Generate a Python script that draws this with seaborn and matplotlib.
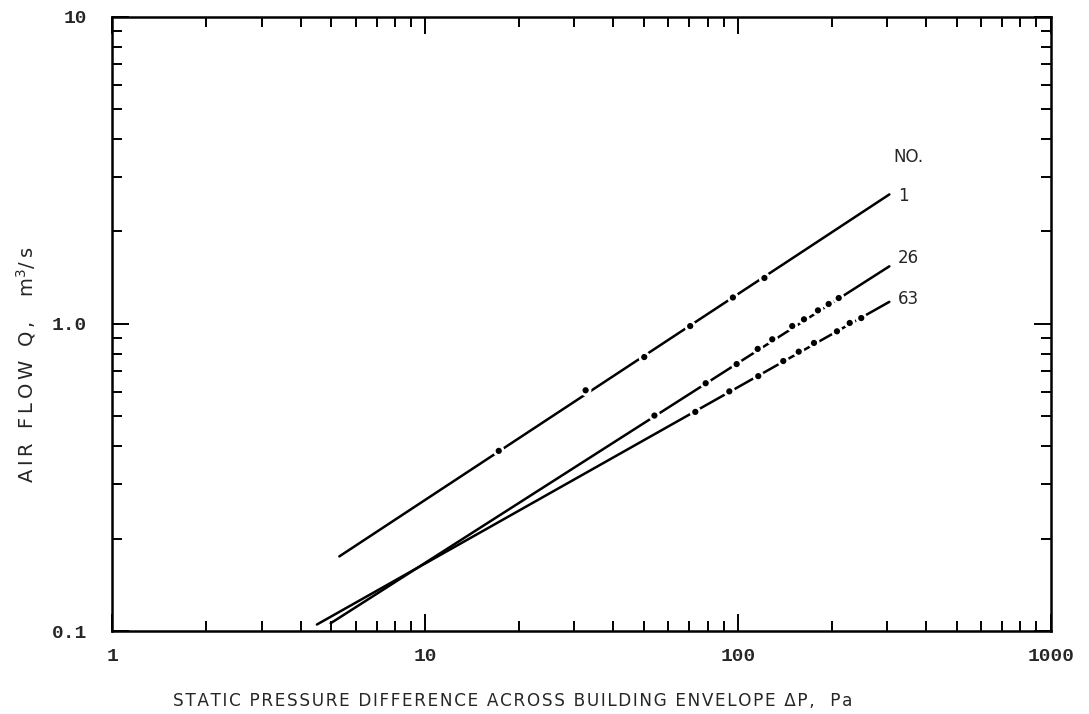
import matplotlib
matplotlib.use('Agg')
import matplotlib.pyplot as plt
import matplotlib.ticker as mticker
import seaborn as sns

# curve numbers
curve_names = ['1', '26', '63']

# fitted lines, start and end (Pa, m3/s)
line_x_start = [5.32, 4.99, 4.51]
line_x_end = [305.0, 305.0, 305.0]
line_y_start = [0.175, 0.106, 0.105]
line_y_end = [2.64, 1.54, 1.18]

# measured points on each curve
pts1_x = [17.2, 32.6, 50.2, 70.4, 96.4, 121.6]
pts1_y = [0.386, 0.608, 0.780, 0.984, 1.219, 1.411]

pts26_x = [54.1, 78.9, 99.1, 115.7, 128.8, 149.2, 162.7, 180.3, 195.1, 210.1]
pts26_y = [0.503, 0.641, 0.740, 0.829, 0.891, 0.984, 1.035, 1.107, 1.161, 1.214]

pts63_x = [73.1, 93.9, 116.2, 139.7, 156.5, 175.1, 207.4, 227.8, 248.0]
pts63_y = [0.517, 0.603, 0.676, 0.757, 0.812, 0.867, 0.946, 1.007, 1.045]

x_ticks = [1, 10, 100, 1000]
x_ticklabels = ['1', '10', '100', '1000']
y_ticks = [0.1, 1.0, 10]
y_ticklabels = ['0.1', '1.0', '10']

points = [(pts1_x, pts1_y), (pts26_x, pts26_y), (pts63_x, pts63_y)]


def spaced(s, n=1):
    # old typewriter lettering: open up the letter spacing a little
    return ('\u200a' * n).join(s)


sns.set_style("ticks")
plt.rcParams['font.family'] = ['DejaVu Sans']

fig = plt.figure(figsize=(10.89, 7.14), dpi=100)
ax = fig.add_axes([0.1031, 0.1162, 0.8617, 0.8603])

label_offsets = [(6, -1), (6, 6), (6, 2)]
for i, name in enumerate(curve_names):
    sns.lineplot(x=[line_x_start[i], line_x_end[i]], y=[line_y_start[i], line_y_end[i]],
                 ax=ax, color='black', linewidth=1.8, zorder=2)
    px, py = points[i]
    # white halo breaks the line around each point
    sns.scatterplot(x=px, y=py, ax=ax, s=70, color='white', edgecolor='none', zorder=3)
    sns.scatterplot(x=px, y=py, ax=ax, s=20, color='black', edgecolor='none', zorder=4)
    ax.annotate(name, xy=(line_x_end[i], line_y_end[i]), xytext=label_offsets[i],
                textcoords='offset points', fontsize=12, va='center', ha='left')

ax.annotate('NO.', xy=(line_x_end[0], line_y_end[0]), xytext=(3, 27),
            textcoords='offset points', fontsize=12, va='center', ha='left')

ax.set_xscale('log')
ax.set_yscale('log')
ax.set_xlim(1, 1000)
ax.set_ylim(0.1, 10)

ax.xaxis.set_major_locator(mticker.FixedLocator(x_ticks))
ax.xaxis.set_major_formatter(mticker.FixedFormatter(x_ticklabels))
ax.yaxis.set_major_locator(mticker.FixedLocator(y_ticks))
ax.yaxis.set_major_formatter(mticker.FixedFormatter(y_ticklabels))
ax.xaxis.set_minor_locator(mticker.LogLocator(base=10, subs=range(2, 10)))
ax.yaxis.set_minor_locator(mticker.LogLocator(base=10, subs=range(2, 10)))
ax.xaxis.set_minor_formatter(mticker.NullFormatter())
ax.yaxis.set_minor_formatter(mticker.NullFormatter())

ax.tick_params(which='both', direction='in', top=True, right=True, width=1.4, color='black')
ax.tick_params(which='major', length=12, pad=12)
ax.tick_params(which='minor', length=7.5)
ax.tick_params(axis='y', which='major', pad=18)
for lab in ax.get_xticklabels() + ax.get_yticklabels():
    lab.set_fontfamily('Liberation Mono')
    lab.set_fontweight('bold')
    lab.set_fontsize(14)

for sp in ax.spines.values():
    sp.set_linewidth(1.8)
    sp.set_color('black')

ax.set_xlabel(spaced('STATIC PRESSURE DIFFERENCE ACROSS BUILDING ENVELOPE ΔP,  Pa'), fontsize=12.2)
ax.set_ylabel(spaced('AIR FLOW Q,  m', 2) + '$^3$' + spaced('/s', 2), fontsize=14)
ax.xaxis.set_label_coords(0.427, -0.1)
ax.yaxis.set_label_coords(-0.079, 0.433)

plt.savefig('out.png', dpi=100)
plt.close()
